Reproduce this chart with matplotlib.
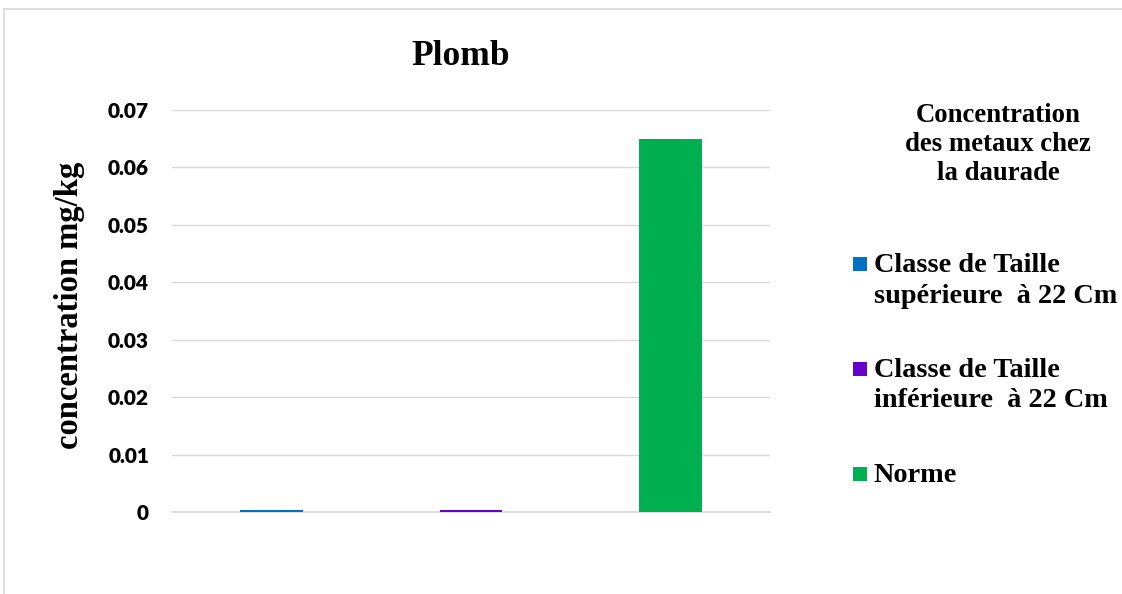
import matplotlib
matplotlib.use("Agg")
import matplotlib.pyplot as plt
from matplotlib.patches import Rectangle
from matplotlib.lines import Line2D

# ---- data ----
categories = ["Classe de Taille\nsupérieure  à 22 Cm",
              "Classe de Taille\ninférieure  à 22 Cm",
              "Norme"]
values = [0.0004, 0.0004, 0.065]
colors = ["#0070C0", "#6600CC", "#00B050"]
yticks = [0, 0.01, 0.02, 0.03, 0.04, 0.05, 0.06, 0.07]
ytick_labels = ["0", "0.01", "0.02", "0.03", "0.04", "0.05", "0.06", "0.07"]
title = "Plomb"
ylabel = "concentration mg/kg"
legend_title = "Concentration\ndes metaux chez\nla daurade"

W, H = 1122, 594
fig = plt.figure(figsize=(W / 100, H / 100), dpi=100)
fig.patch.set_facecolor("white")

def fx(px):
    return px / W

def fy(py):
    return 1 - py / H

ax = fig.add_axes([fx(172), fy(512), fx(770) - fx(172), fy(110) - fy(512)])
x = list(range(len(categories)))
ax.bar(x, values, width=0.316, color=colors, zorder=3)
ax.set_xlim(-0.5, len(categories) - 0.5)
ax.set_ylim(0, 0.07)
ax.set_yticks(yticks)
ax.set_yticklabels(ytick_labels, fontfamily="Lato", fontweight="heavy", fontsize=15)
ax.set_xticks([])
ax.tick_params(axis="y", length=0, pad=16.5)
ax.grid(axis="y", color="#d9d9d9", linewidth=1.0, zorder=0)
for s in ["left", "right", "top"]:
    ax.spines[s].set_visible(False)
ax.spines["bottom"].set_color("#d9d9d9")
ax.spines["bottom"].set_linewidth(1.2)

serif = "Liberation Serif"

# title
fig.text(fx(461), fy(65), title, ha="center", va="baseline",
         fontfamily=serif, fontweight="bold", fontsize=25.5)

# y label
fig.text(fx(70), fy(305), ylabel, ha="center", va="center", rotation=90,
         fontfamily=serif, fontweight="bold", fontsize=23.5)

# legend title
for line, by in zip(legend_title.split("\n"), [122, 151, 180]):
    fig.text(fx(998), fy(by), line, ha="center", va="baseline",
             fontfamily=serif, fontweight="bold", fontsize=19.3)

# legend entries
entry_baselines = [[272, 303], [377, 407], [482]]
for cat, col, bls in zip(categories, colors, entry_baselines):
    first = bls[0]
    fig.patches.append(Rectangle((fx(853), fy(first - 1)), fx(14), 14 / H,
                                 transform=fig.transFigure, facecolor=col,
                                 edgecolor="none"))
    for line, by in zip(cat.split("\n"), bls):
        fig.text(fx(874), fy(by), line, ha="left", va="baseline",
                 fontfamily=serif, fontweight="bold", fontsize=20.3)

# outer border
fig.lines.append(Line2D([fx(3.5), fx(3.5)], [fy(9), 0], transform=fig.transFigure,
                        color="#d9d9d9", linewidth=1.2))
fig.lines.append(Line2D([fx(3.5), 1], [fy(9), fy(9)], transform=fig.transFigure,
                        color="#d9d9d9", linewidth=1.2))

fig.savefig("out.png", dpi=100, facecolor="white")
